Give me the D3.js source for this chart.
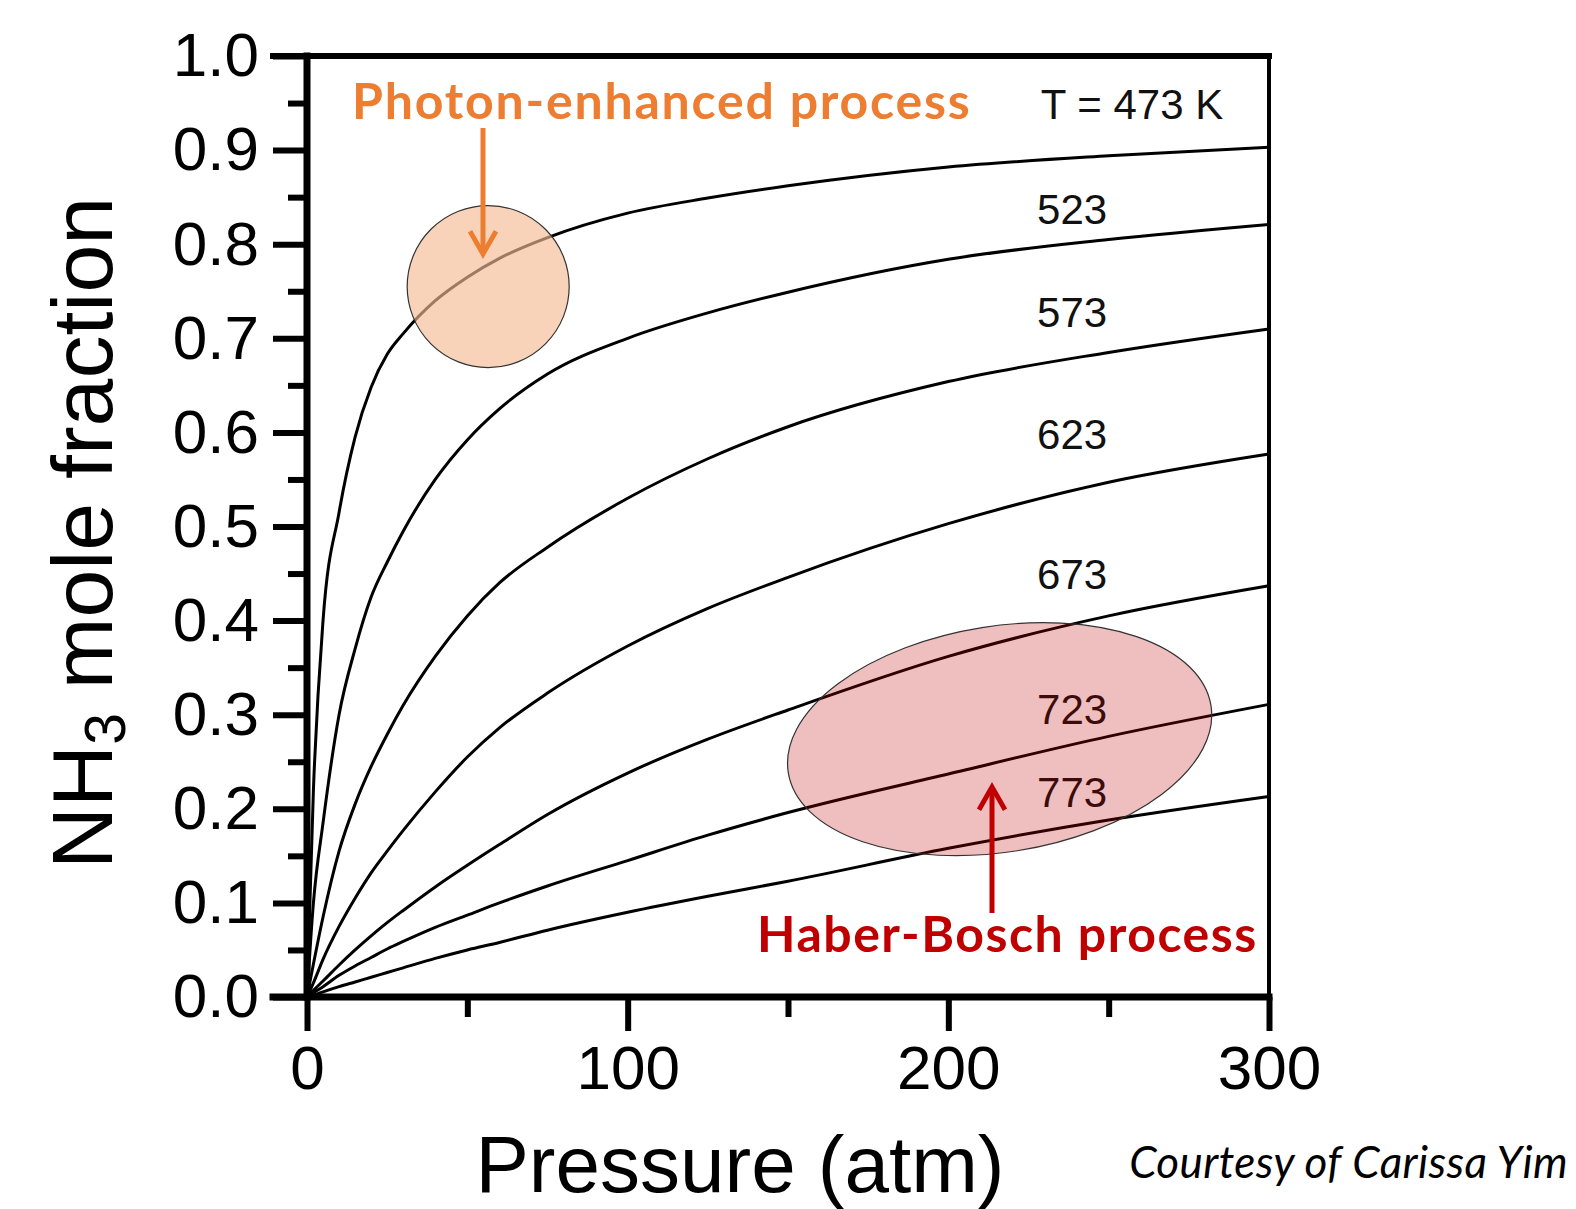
<!DOCTYPE html>
<html>
<head>
<meta charset="utf-8">
<title>NH3 mole fraction vs pressure</title>
<script src="https://d3js.org/d3.v7.min.js"></script>
<style>
body { margin: 0; background: #fff; }
svg { display: block; }
.tick text { font-family: "Liberation Sans", Arial, sans-serif; fill: #000; }
</style>
</head>
<body>
<svg class="chart"></svg>
<script>
// data
var pressures = [0, 2, 5, 10, 15, 20, 25, 30, 40, 50, 60, 75, 100, 125, 150, 200, 250, 300];
var temps = [473, 523, 573, 623, 673, 723, 773];
var y473 = [0, 0.22, 0.40, 0.515, 0.595, 0.648, 0.683, 0.705, 0.74, 0.765, 0.785, 0.807, 0.833, 0.849, 0.862, 0.882, 0.894, 0.903];
var y523 = [0, 0.10, 0.185, 0.30, 0.37, 0.425, 0.462, 0.495, 0.55, 0.592, 0.625, 0.662, 0.70, 0.727, 0.749, 0.784, 0.805, 0.821];
var y573 = [0, 0.035, 0.085, 0.155, 0.205, 0.245, 0.279, 0.31, 0.362, 0.405, 0.44, 0.478, 0.53, 0.572, 0.606, 0.654, 0.685, 0.71];
var y623 = [0, 0.015, 0.04, 0.075, 0.105, 0.132, 0.155, 0.177, 0.218, 0.255, 0.286, 0.323, 0.373, 0.413, 0.446, 0.503, 0.547, 0.577];
var y673 = [0, 0.007, 0.017, 0.034, 0.05, 0.065, 0.079, 0.092, 0.117, 0.14, 0.162, 0.194, 0.238, 0.274, 0.305, 0.362, 0.405, 0.437];
var y723 = [0, 0.0045, 0.011, 0.023, 0.033, 0.042, 0.051, 0.059, 0.074, 0.087, 0.10, 0.118, 0.145, 0.172, 0.196, 0.237, 0.277, 0.311];
var y773 = [0, 0.002, 0.0055, 0.011, 0.016, 0.021, 0.026, 0.031, 0.041, 0.05, 0.058, 0.071, 0.09, 0.107, 0.123, 0.158, 0.188, 0.213];
var series = [y473, y523, y573, y623, y673, y723, y773];

var yMajor = [0, 0.1, 0.2, 0.3, 0.4, 0.5, 0.6, 0.7, 0.8, 0.9, 1.0];
var yMinor = [0.05, 0.15, 0.25, 0.35, 0.45, 0.55, 0.65, 0.75, 0.85, 0.95];
var xMajor = [0, 100, 200, 300];
var xMinor = [50, 150, 250];

// curve labels (text + where they sit, in data units)
var labelText = ["T = 473 K", "523", "573", "623", "673", "723", "773"];
var labelY = [0.949, 0.838, 0.728, 0.598, 0.45, 0.306, 0.218];

var width = 1576, height = 1209;
var svg = d3.select(".chart").attr("width", width).attr("height", height);

var x = d3.scaleLinear().domain([0, 300]).range([307, 1269]);
var y = d3.scaleLinear().domain([0, 1]).range([997, 56]);

// curves
var line = d3.line()
	.x(function(d){ return x(d[0]); })
	.y(function(d){ return y(d[1]); })
	.curve(d3.curveMonotoneX);

svg.append("g").selectAll("path")
	.data(series)
	.enter().append("path")
	.attr("d", function(s){ return line(pressures.map(function(p, i){ return [p, s[i]]; })); })
	.attr("fill", "none")
	.attr("stroke", "#000")
	.attr("stroke-width", 3);

// curve labels
svg.append("g").selectAll("text")
	.data(labelText)
	.enter().append("text")
	.attr("x", function(d, i){ return i === 0 ? x(228.8) : x(238.6); })
	.attr("y", function(d, i){ return y(labelY[i]); })
	.attr("dy", "0.36em")
	.attr("text-anchor", function(d, i){ return i === 0 ? "start" : "middle"; })
	.style("font-family", "'Liberation Sans', Arial, sans-serif")
	.style("font-size", "42px")
	.attr("fill", "#111")
	.text(function(d){ return d; });

// highlight shapes
svg.append("circle")
	.attr("cx", x(56.5)).attr("cy", y(0.755))
	.attr("r", 81)
	.attr("fill", "#F4BC94").attr("fill-opacity", 0.65)
	.attr("stroke", "#333").attr("stroke-width", 1.2);

svg.append("ellipse")
	.attr("transform", "translate(" + x(216) + "," + y(0.274) + ") rotate(-9)")
	.attr("rx", 214).attr("ry", 113)
	.attr("fill", "#C00000").attr("fill-opacity", 0.25)
	.attr("stroke", "#333").attr("stroke-width", 1.2);

// arrow heads
var defs = svg.append("defs");
function marker(id, color){
	defs.append("marker")
		.attr("id", id)
		.attr("viewBox", "0 0 10 10")
		.attr("refX", 8.5).attr("refY", 5)
		.attr("markerWidth", 6.5).attr("markerHeight", 6.5)
		.attr("markerUnits", "strokeWidth")
		.attr("orient", "auto")
		.append("path")
		.attr("d", "M1.5,1 L8.5,5 L1.5,9")
		.attr("fill", "none")
		.attr("stroke", color)
		.attr("stroke-width", 1.5)
		.attr("stroke-linejoin", "miter");
}
marker("arrOrange", "#ED7D31");
marker("arrRed", "#C00000");

svg.append("line")
	.attr("x1", 483).attr("y1", 128).attr("x2", 483).attr("y2", 254)
	.attr("stroke", "#ED7D31").attr("stroke-width", 5)
	.attr("marker-end", "url(#arrOrange)");

svg.append("line")
	.attr("x1", 992).attr("y1", 913).attr("x2", 992).attr("y2", 787)
	.attr("stroke", "#C00000").attr("stroke-width", 5)
	.attr("marker-end", "url(#arrRed)");

svg.append("text")
	.attr("x", 352).attr("y", 119)
	.style("font-family", "Lato, 'Open Sans', sans-serif")
	.style("font-weight", "bold")
	.style("font-size", "50px")
	.style("letter-spacing", "1.8px")
	.attr("fill", "#ED7D31")
	.text("Photon-enhanced process");

svg.append("text")
	.attr("x", 757).attr("y", 952)
	.style("font-family", "Lato, 'Open Sans', sans-serif")
	.style("font-weight", "bold")
	.style("font-size", "50px")
	.style("letter-spacing", "1.5px")
	.attr("fill", "#C00000")
	.text("Haber-Bosch process");

// axes
var yAxis = svg.append("g")
	.attr("transform", "translate(" + x(0) + ",0)")
	.call(d3.axisLeft(y).tickValues(yMajor).tickSize(34).tickPadding(14).tickFormat(d3.format(".1f")));
yAxis.selectAll(".tick line").attr("stroke-width", 6);
yAxis.selectAll(".tick text").style("font-size", "62px");
yAxis.select(".domain").remove();

var yAxisMinor = svg.append("g")
	.attr("transform", "translate(" + x(0) + ",0)")
	.call(d3.axisLeft(y).tickValues(yMinor).tickSize(19).tickFormat(""));
yAxisMinor.selectAll(".tick line").attr("stroke-width", 6);
yAxisMinor.select(".domain").remove();

var xAxis = svg.append("g")
	.attr("transform", "translate(0," + y(0) + ")")
	.call(d3.axisBottom(x).tickValues(xMajor).tickSize(34).tickPadding(14).tickFormat(d3.format("d")));
xAxis.selectAll(".tick line").attr("stroke-width", 6);
xAxis.selectAll(".tick text").style("font-size", "62px");
xAxis.select(".domain").remove();

var xAxisMinor = svg.append("g")
	.attr("transform", "translate(0," + y(0) + ")")
	.call(d3.axisBottom(x).tickValues(xMinor).tickSize(20).tickFormat(""));
xAxisMinor.selectAll(".tick line").attr("stroke-width", 6);
xAxisMinor.select(".domain").remove();

// frame
var frame = svg.append("g").attr("stroke", "#000").attr("stroke-linecap", "square");
frame.append("line").attr("x1", x(0)).attr("x2", x(0)).attr("y1", y(1)).attr("y2", y(0)).attr("stroke-width", 7);
frame.append("line").attr("x1", x(0) - 34).attr("x2", x(300)).attr("y1", y(0)).attr("y2", y(0)).attr("stroke-width", 7);
frame.append("line").attr("x1", x(0) - 34).attr("x2", x(300)).attr("y1", y(1)).attr("y2", y(1)).attr("stroke-width", 6);
frame.append("line").attr("x1", x(300)).attr("x2", x(300)).attr("y1", y(1)).attr("y2", y(0)).attr("stroke-width", 4);

// axis titles
svg.append("text")
	.attr("x", 740).attr("y", 1192)
	.attr("text-anchor", "middle")
	.style("font-family", "'Liberation Sans', Arial, sans-serif")
	.style("font-size", "80px")
	.text("Pressure (atm)");

var yTitle = svg.append("text")
	.attr("transform", "translate(112,533) rotate(-90)")
	.attr("text-anchor", "middle")
	.style("font-family", "'Liberation Sans', Arial, sans-serif")
	.style("font-size", "86px");
yTitle.append("tspan").text("NH");
yTitle.append("tspan").attr("dy", "0.22em").style("font-size", "57px").text("3");
yTitle.append("tspan").attr("dy", "-0.15em").text(" mole fraction");

svg.append("text")
	.attr("x", 1568).attr("y", 1178)
	.attr("text-anchor", "end")
	.style("font-family", "Lato, 'Open Sans', sans-serif")
	.style("font-style", "italic")
	.style("font-size", "44px")
	.style("letter-spacing", "0.4px")
	.text("Courtesy of Carissa Yim");
</script>
</body>
</html>
